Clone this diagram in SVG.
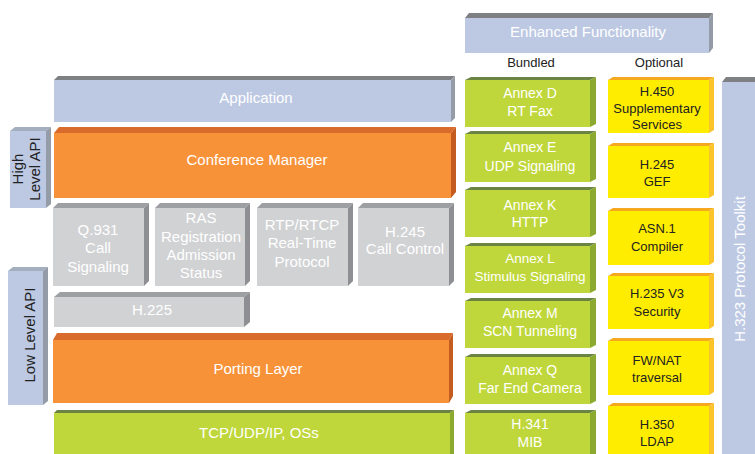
<svg xmlns="http://www.w3.org/2000/svg" width="755" height="454" viewBox="0 0 755 454">
<style>
text{font-family:"Liberation Sans",Arial,sans-serif;text-anchor:middle}
.w{fill:#fff}
.k{fill:#222}
.bf{fill:#bdc9e3}.bt{fill:#7e8083}.br{fill:#939ca7}
.ht{fill:#a3afbf}
.of{fill:#f79239}.ot{fill:#d96b2c}.or{fill:#c55c1f}
.gf{fill:#d1d2d4}.gt{fill:#9d9fa2}.gr{fill:#8d8f92}
.lf{fill:#bfd73b}.lt{fill:#6b8443}.lr{fill:#8caa2f}
.yf{fill:#ffed00}.yt{fill:#f6a81e}.yr{fill:#fbc42a}
.f15{font-size:15px}.f14{font-size:14px}.f13{font-size:13px}.f135{font-size:13.5px}
</style>
<g id="connectors"/>
<g id="application">
<rect class="bf" x="54" y="80" width="397" height="42"/>
<polygon class="bt" points="54,80 58,76 455,76 451,80"/>
<polygon class="br" points="451,80 455,76 455,118 451,122"/>
<text class="w f15" x="256" y="103">Application</text>
</g>
<g id="high-level-api">
<rect class="bf" x="10" y="131" width="36" height="77"/>
<polygon class="ht" points="10,131 15,127 51,127 46,131"/>
<polygon class="br" points="46,131 51,127 51,204 46,208"/>
<text class="k f15" transform="rotate(-90 23 169)" x="23" y="169">High</text>
<text class="k f15" transform="rotate(-90 40 169)" x="40" y="169">Level API</text>
</g>
<g id="conference-manager">
<rect class="of" x="54" y="133" width="397" height="65"/>
<polygon class="ot" points="54,133 59,127 456,127 451,133"/>
<polygon class="or" points="451,133 456,127 456,192 451,198"/>
<text class="w f15" x="257" y="165">Conference Manager</text>
</g>
<g id="q931">
<rect class="gf" x="53" y="208" width="91" height="78"/>
<polygon class="gt" points="53,208 58,203 149,203 144,208"/>
<polygon class="gr" points="144,208 149,203 149,281 144,286"/>
<text class="w f15" x="98" y="235">Q.931</text>
<text class="w f15" x="98" y="253">Call</text>
<text class="w f15" x="98" y="272">Signaling</text>
</g>
<g id="ras">
<rect class="gf" x="155" y="208" width="90" height="78"/>
<polygon class="gt" points="155,208 160,203 250,203 245,208"/>
<polygon class="gr" points="245,208 250,203 250,281 245,286"/>
<text class="w f15" x="201" y="223">RAS</text>
<text class="w f15" x="201" y="242">Registration</text>
<text class="w f15" x="201" y="260">Admission</text>
<text class="w f15" x="201" y="278">Status</text>
</g>
<g id="rtp">
<rect class="gf" x="257" y="208" width="91" height="78"/>
<polygon class="gt" points="257,208 262,203 353,203 348,208"/>
<polygon class="gr" points="348,208 353,203 353,281 348,286"/>
<text class="w f15" x="302" y="230">RTP/RTCP</text>
<text class="w f15" x="302" y="248">Real-Time</text>
<text class="w f15" x="302" y="267">Protocol</text>
</g>
<g id="h245-call-control">
<rect class="gf" x="358" y="208" width="91" height="78"/>
<polygon class="gt" points="358,208 363,203 454,203 449,208"/>
<polygon class="gr" points="449,208 454,203 454,281 449,286"/>
<text class="w f15" x="405" y="237">H.245</text>
<text class="w f15" x="405" y="254">Call Control</text>
</g>
<g id="h225">
<rect class="gf" x="54" y="297" width="190" height="30"/>
<polygon class="gt" points="54,297 60,292 250,292 244,297"/>
<polygon class="gr" points="244,297 250,292 250,322 244,327"/>
<text class="w f15" x="152" y="315">H.225</text>
</g>
<g id="low-level-api">
<rect class="bf" x="8" y="271" width="35" height="134"/>
<polygon class="ht" points="8,271 13,267 48,267 43,271"/>
<polygon class="br" points="43,271 48,267 48,401 43,405"/>
<text class="k f15" transform="rotate(-90 35 335)" x="35" y="335">Low Level API</text>
</g>
<g id="porting-layer">
<rect class="of" x="53" y="340" width="396" height="63"/>
<polygon class="ot" points="53,340 57,333 453,333 449,340"/>
<polygon class="or" points="449,340 453,333 453,396 449,403"/>
<text class="w f15" x="258" y="374">Porting Layer</text>
</g>
<g id="tcp">
<rect class="lf" x="54" y="413" width="396" height="42"/>
<polygon class="lt" points="54,413 57,410 454,410 450,413"/>
<polygon class="lr" points="450,413 454,410 454,455 450,455"/>
<text class="w f15" x="259" y="438">TCP/UDP/IP, OSs</text>
</g>
<g id="enhanced">
<rect class="bf" x="465" y="18" width="244" height="35"/>
<polygon class="bt" points="465,18 469,13 713,13 709,18"/>
<polygon class="br" points="709,18 713,13 713,48 709,53"/>
<text class="w f15" x="588" y="37">Enhanced Functionality</text>
</g>
<g id="labels">
<text class="k f13" x="531" y="67">Bundled</text>
<text class="k f13" x="659" y="67">Optional</text>
</g>
<g id="annex-d">
<rect class="lf" x="465" y="80" width="125" height="47"/>
<polygon class="lt" points="465,80 471,77 596,77 590,80"/>
<polygon class="lr" points="590,80 596,77 596,124 590,127"/>
<text class="w f14" x="530" y="98">Annex D</text>
<text class="w f14" x="530" y="116">RT Fax</text>
</g>
<g id="annex-e">
<rect class="lf" x="465" y="134" width="125" height="48"/>
<polygon class="lt" points="465,134 471,131 596,131 590,134"/>
<polygon class="lr" points="590,134 596,131 596,179 590,182"/>
<text class="w f14" x="530" y="152">Annex E</text>
<text class="w f14" x="530" y="171">UDP Signaling</text>
</g>
<g id="annex-k">
<rect class="lf" x="465" y="190" width="125" height="47"/>
<polygon class="lt" points="465,190 471,187 596,187 590,190"/>
<polygon class="lr" points="590,190 596,187 596,234 590,237"/>
<text class="w f14" x="530" y="210">Annex K</text>
<text class="w f14" x="530" y="227">HTTP</text>
</g>
<g id="annex-l">
<rect class="lf" x="465" y="246" width="125" height="47"/>
<polygon class="lt" points="465,246 471,243 596,243 590,246"/>
<polygon class="lr" points="590,246 596,243 596,290 590,293"/>
<text class="w f135" x="530" y="263">Annex L</text>
<text class="w f135" x="530" y="281">Stimulus Signaling</text>
</g>
<g id="annex-m">
<rect class="lf" x="465" y="301" width="125" height="47"/>
<polygon class="lt" points="465,301 471,298 596,298 590,301"/>
<polygon class="lr" points="590,301 596,298 596,345 590,348"/>
<text class="w f14" x="530" y="318">Annex M</text>
<text class="w f14" x="530" y="336">SCN Tunneling</text>
</g>
<g id="annex-q">
<rect class="lf" x="465" y="357" width="125" height="47"/>
<polygon class="lt" points="465,357 471,354 596,354 590,357"/>
<polygon class="lr" points="590,357 596,354 596,401 590,404"/>
<text class="w f14" x="530" y="375">Annex Q</text>
<text class="w f14" x="530" y="393">Far End Camera</text>
</g>
<g id="h341">
<rect class="lf" x="465" y="413" width="125" height="42"/>
<polygon class="lt" points="465,413 471,410 596,410 590,413"/>
<polygon class="lr" points="590,413 596,410 596,455 590,455"/>
<text class="w f14" x="530" y="429">H.341</text>
<text class="w f14" x="530" y="447">MIB</text>
</g>
<g id="h450">
<rect class="yf" x="608" y="80" width="101" height="53"/>
<polygon class="yt" points="608,80 613,77 714,77 709,80"/>
<polygon class="yr" points="709,80 714,77 714,130 709,133"/>
<text class="k f13" x="657" y="96">H.450</text>
<text class="k f13" x="657" y="113">Supplementary</text>
<text class="k f13" x="657" y="129">Services</text>
</g>
<g id="h245-gef">
<rect class="yf" x="608" y="146" width="101" height="52"/>
<polygon class="yt" points="608,146 613,143 714,143 709,146"/>
<polygon class="yr" points="709,146 714,143 714,195 709,198"/>
<text class="k f13" x="657" y="169">H.245</text>
<text class="k f13" x="657" y="186">GEF</text>
</g>
<g id="asn1">
<rect class="yf" x="608" y="211" width="101" height="54"/>
<polygon class="yt" points="608,211 613,208 714,208 709,211"/>
<polygon class="yr" points="709,211 714,208 714,262 709,265"/>
<text class="k f13" x="657" y="233">ASN.1</text>
<text class="k f13" x="657" y="251">Compiler</text>
</g>
<g id="h235">
<rect class="yf" x="608" y="276" width="101" height="53"/>
<polygon class="yt" points="608,276 613,273 714,273 709,276"/>
<polygon class="yr" points="709,276 714,273 714,326 709,329"/>
<text class="k f13" x="657" y="298">H.235 V3</text>
<text class="k f13" x="657" y="316">Security</text>
</g>
<g id="fwnat">
<rect class="yf" x="608" y="341" width="101" height="54"/>
<polygon class="yt" points="608,341 613,338 714,338 709,341"/>
<polygon class="yr" points="709,341 714,338 714,392 709,395"/>
<text class="k f13" x="657" y="365">FW/NAT</text>
<text class="k f13" x="657" y="382">traversal</text>
</g>
<g id="h350">
<rect class="yf" x="608" y="406" width="101" height="49"/>
<polygon class="yt" points="608,406 613,403 714,403 709,406"/>
<polygon class="yr" points="709,406 714,403 714,455 709,455"/>
<text class="k f13" x="657" y="429">H.350</text>
<text class="k f13" x="657" y="446">LDAP</text>
</g>
<g id="toolkit">
<rect class="bf" x="722" y="82" width="40" height="373"/>
<polygon class="bt" points="722,82 726,77 760,77 760,82"/>
<text class="w f15" transform="rotate(-90 745 269)" x="745" y="269">H.323 Protocol Toolkit</text>
</g>
</svg>
